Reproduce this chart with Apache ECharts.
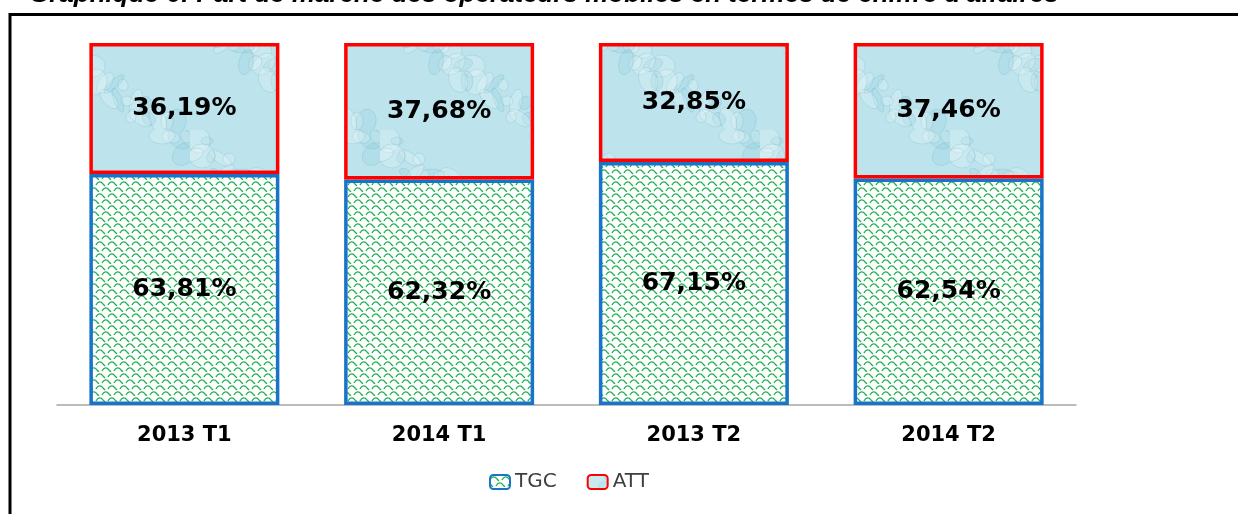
<!DOCTYPE html>
<html>
<head>
<meta charset="utf-8">
<script src="https://cdn.jsdelivr.net/npm/echarts@6/dist/echarts.min.js"></script>
<style>
  html, body { margin: 0; padding: 0; background: #fff; }
  #chart { width: 1238px; height: 514px; }
</style>
</head>
<body>
<div id="chart"></div>
<script>
// données
var categories = ['2013 T1', '2014 T1', '2013 T2', '2014 T2'];
var tgcValues = [63.81, 62.32, 67.15, 62.54];
var attValues = [36.19, 37.68, 32.85, 37.46];
var titleText = "Graphique 6: Part de marché des opérateurs mobiles en termes de chiffre d'affaires";

// motif vert en écailles (TGC)
function makeScalePattern() {
  var c = document.createElement('canvas');
  c.width = 12; c.height = 12;
  var ctx = c.getContext('2d');
  ctx.fillStyle = '#ffffff';
  ctx.fillRect(0, 0, 12, 12);
  ctx.strokeStyle = '#1fb150';
  ctx.lineWidth = 1.3;
  function scale(ox, oy) {
    ctx.beginPath();
    ctx.moveTo(ox, oy + 5);
    ctx.bezierCurveTo(ox + 2, oy + 1, ox + 5, oy + 1, ox + 7, oy + 4);
    ctx.lineTo(ox + 9, oy + 6);
    ctx.stroke();
  }
  scale(0, 0); scale(-12, 0); scale(12, 0);
  scale(6, 6); scale(-6, 6);
  return c;
}

// texture bleue "gouttes d'eau" (ATT)
function makeWaterPattern() {
  var c = document.createElement('canvas');
  c.width = 190; c.height = 130;
  var ctx = c.getContext('2d');
  ctx.fillStyle = '#bde4ed';
  ctx.fillRect(0, 0, 190, 130);
  for (var i = 0; i < 40; i++) {
    var x = (i * 53 + 17) % 190;
    var y = (i * 37 + 11) % 130;
    var rx = 6 + (i * 7) % 14;
    var ry = 4 + (i * 5) % 9;
    ctx.beginPath();
    ctx.ellipse(x, y, rx, ry, (i % 5) * 0.6, 0, Math.PI * 2);
    ctx.fillStyle = i % 3 ? 'rgba(255,255,255,0.18)' : 'rgba(120,190,205,0.16)';
    ctx.fill();
    ctx.strokeStyle = 'rgba(110,175,195,0.25)';
    ctx.lineWidth = 1;
    ctx.stroke();
  }
  return c;
}

var chart = echarts.init(document.getElementById('chart'));

function fmt(p) {
  return p.value.toFixed(2).replace('.', ',') + '%';
}

var labelStyle = {
  show: true,
  position: 'inside',
  formatter: fmt,
  color: '#000',
  fontFamily: 'DejaVu Sans',
  fontWeight: 'bold',
  fontSize: 25
};

chart.setOption({
  animation: false,
  backgroundColor: '#fff',
  title: {
    text: titleText,
    left: 24,
    top: -23,
    textStyle: {
      fontFamily: 'Liberation Sans',
      fontStyle: 'italic',
      fontWeight: 'bold',
      fontSize: 26,
      color: '#000'
    }
  },
  graphic: [{
    type: 'rect',
    shape: { x: 10, y: 14.5, width: 1250, height: 520 },
    style: { fill: 'none', stroke: '#000', lineWidth: 3 },
    silent: true
  }],
  grid: {
    left: 57,
    right: 162,
    top: 43,
    bottom: 109
  },
  legend: {
    bottom: 17,
    left: 484,
    itemWidth: 20,
    itemHeight: 14,
    itemGap: 30,
    textStyle: {
      fontFamily: 'DejaVu Sans',
      fontSize: 20,
      color: '#404040'
    },
    data: ['TGC', 'ATT']
  },
  xAxis: {
    type: 'category',
    data: categories,
    axisLine: { lineStyle: { color: '#a6a6a6', width: 1.5 } },
    axisTick: { show: false },
    axisLabel: {
      margin: 20,
      color: '#000',
      fontFamily: 'DejaVu Sans',
      fontWeight: 'bold',
      fontSize: 21
    }
  },
  yAxis: {
    type: 'value',
    min: 0,
    max: 100,
    show: false
  },
  series: [
    {
      name: 'TGC',
      type: 'bar',
      stack: 'part',
      barWidth: 190,
      data: tgcValues,
      itemStyle: {
        color: { image: makeScalePattern(), repeat: 'repeat' },
        borderColor: '#1874c8',
        borderWidth: 3.5
      },
      label: labelStyle
    },
    {
      name: 'ATT',
      type: 'bar',
      stack: 'part',
      barWidth: 190,
      data: attValues,
      itemStyle: {
        color: { image: makeWaterPattern(), repeat: 'repeat' },
        borderColor: '#ff0000',
        borderWidth: 3.5
      },
      label: labelStyle
    }
  ]
});
</script>
</body>
</html>
